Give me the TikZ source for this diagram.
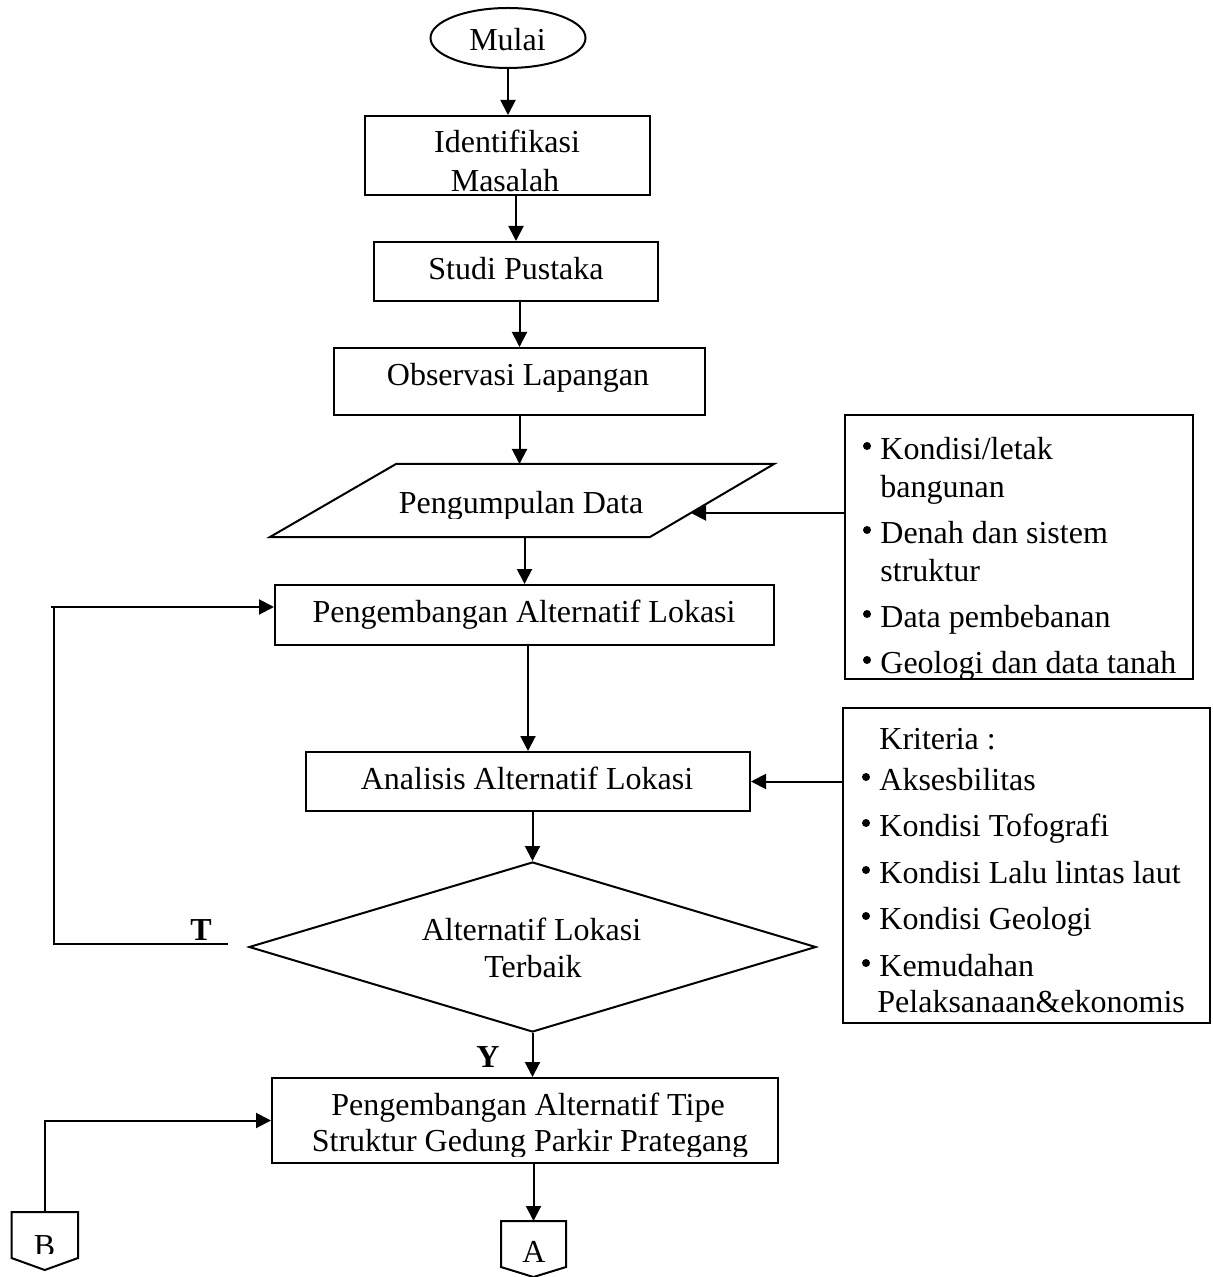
\documentclass[tikz,border=0pt]{standalone}
\usepackage{fontspec}
\setmainfont{Liberation Serif}
\usetikzlibrary{arrows.meta,shapes.geometric}
\begin{document}
\begin{tikzpicture}[x=0.5pt,y=-0.5pt,
  box/.style={draw,line width=1pt,rectangle,inner sep=0pt},
  txt/.style={font=\fontsize{16}{19}\selectfont,inner sep=0pt,anchor=base},
  ltxt/.style={txt,anchor=base west},
  btxt/.style={txt,font=\fontsize{16}{19}\selectfont\bfseries},
  arr/.style={line width=1pt,-{Triangle[length=7.5pt,width=7.5pt]}},
  ln/.style={line width=1pt},
  bul/.style={fill=black}]

\useasboundingbox[fill=white] (0,0) rectangle (1212,1277);

% ---------- main column shapes ----------
\node[draw,ellipse,line width=1pt,inner sep=0pt,minimum width=77.5pt,minimum height=30pt] (mulai) at (508,38) {};
\node[box,minimum width=142.5pt,minimum height=39.5pt] (id) at (507.5,155.5) {};
\node[box,minimum width=142pt,minimum height=29.5pt] (studi) at (516,271.5) {};
\node[box,minimum width=185.5pt,minimum height=33.5pt] (obs) at (519.5,381.5) {};

\coordinate (pdTL) at (396,464);
\coordinate (pdTR) at (774,464);
\coordinate (pdBR) at (650,537);
\coordinate (pdBL) at (270,537);
\coordinate (pdTop) at (521,464);
\coordinate (pdBot) at (524,537);
\coordinate (pdRight) at (691,513);
\draw[ln,line join=miter] (pdTL) -- (pdTR) -- (pdBR) -- (pdBL) -- cycle;

\node[box,minimum width=249.5pt,minimum height=30pt] (pal) at (524.5,615) {};
\node[box,minimum width=222pt,minimum height=29.5pt] (ana) at (528,781.5) {};
\node[draw,diamond,line width=1pt,inner sep=0pt,minimum width=283.5pt,minimum height=85pt] (dia) at (532.5,947) {};
\node[box,minimum width=253pt,minimum height=42.5pt] (pat) at (525,1120.5) {};

\coordinate (Atop) at (533.5,1221);
\draw[ln] (501,1221) -- (566,1221) -- (566,1267) -- (533.5,1277) -- (501,1267) -- cycle;
\coordinate (Btop) at (44.75,1212);
\draw[ln] (11.5,1212) -- (78,1212) -- (78,1258) -- (44.75,1270) -- (11.5,1258) -- cycle;

% ---------- side boxes ----------
\node[box,minimum width=174pt,minimum height=132pt] (r1) at (1019,547) {};
\node[box,minimum width=183.5pt,minimum height=157.5pt] (r2) at (1026.5,865.5) {};

% ---------- texts ----------
\node[txt] (tMulai) at (507.5,51) {Mulai};
\node[txt] (tId1) at (507,153) {Identifikasi};
\begin{scope}
  \clip (366,117) rectangle (649,193);
  \node[txt] (tId2) at (505,192) {Masalah};
\end{scope}
\node[txt] (tStudi) at (516,280) {Studi Pustaka};
\node[txt] (tObs) at (518,386) {Observasi Lapangan};
\begin{scope}
  \clip (300,470) rectangle (740,518);
  \node[txt] (tPd) at (521,514) {Pengumpulan Data};
\end{scope}
\node[txt] (tPal) at (524,622) {Pengembangan Alternatif Lokasi};
\node[txt] (tAna) at (527,789) {Analisis Alternatif Lokasi};
\node[txt] (tDia1) at (531.5,940) {Alternatif Lokasi};
\node[txt] (tDia2) at (533,977) {Terbaik};
\node[txt] (tPat1) at (528,1115) {Pengembangan Alternatif Tipe};
\begin{scope}
  \clip (273,1120) rectangle (777,1156);
  \node[txt] (tPat2) at (530,1151) {Struktur Gedung Parkir Prategang};
\end{scope}
\node[txt] (tA) at (534,1262) {A};
\begin{scope}
  \clip (12,1213) rectangle (77,1253);
  \node[txt] (tB) at (44.5,1256) {B};
\end{scope}
\node[btxt] (tT) at (201,940) {T};
\node[btxt] (tY) at (488,1067) {Y};

% right box 1
\node[ltxt] (r1a) at (880,459) {Kondisi/letak};
\node[ltxt] (r1b) at (880,497) {bangunan};
\node[ltxt] (r1c) at (880,543) {Denah dan sistem};
\node[ltxt] (r1d) at (880,581) {struktur};
\node[ltxt] (r1e) at (880,627) {Data pembebanan};
\begin{scope}
  \clip (846,416) rectangle (1192,677);
  \node[ltxt] (r1f) at (880,673) {Geologi dan data tanah};
\end{scope}
\foreach \yy in {459,543,627,673} \fill[bul] (867,\yy-13) circle (2pt);

% right box 2
\node[ltxt] (r2a) at (879,749) {Kriteria :};
\node[ltxt] (r2b) at (879,790) {Aksesbilitas};
\node[ltxt] (r2c) at (879,836) {Kondisi Tofografi};
\node[ltxt] (r2d) at (879,883) {Kondisi Lalu lintas laut};
\node[ltxt] (r2e) at (879,929) {Kondisi Geologi};
\node[ltxt] (r2f) at (879,976) {Kemudahan};
\node[ltxt] (r2g) at (877,1012) {Pelaksanaan\&ekonomis};
\foreach \yy in {790,836,883,929,976} \fill[bul] (866,\yy-13) circle (2pt);

% ---------- connectors ----------
\draw[arr] (mulai.south) -- (mulai.south |- id.north);
\draw[arr] (studi.north |- id.south) -- (studi.north);
\draw[arr] (obs.north |- studi.south) -- (obs.north);
\draw[arr] (obs.south) -- (obs.south |- pdTop);
\draw[arr] (pal.north |- pdBot) -- (pal.north);
\draw[arr] (ana.north |- pal.south) -- (ana.north);
\draw[arr] (dia.north |- ana.south) -- (dia.north);
\draw[arr] (dia.south) -- (dia.south |- pat.north);
\draw[arr] (Atop |- pat.south) -- (Atop);

\draw[arr] (r1.west |- pdRight) -- (pdRight);
\draw[arr] (r2.west |- ana.east) -- (ana.east);

% feedback T
\coordinate (tEnd) at (228,944);
\coordinate (tCorner) at (54,607);
\coordinate (tTick) at (51,607);
\draw[ln] (tEnd) -- (tEnd -| tCorner) -- (tCorner);
\draw[arr] (tTick) -- (tTick -| pal.west);

% B connector
\draw[arr] (Btop) |- (pat.west);

\end{tikzpicture}
\end{document}
